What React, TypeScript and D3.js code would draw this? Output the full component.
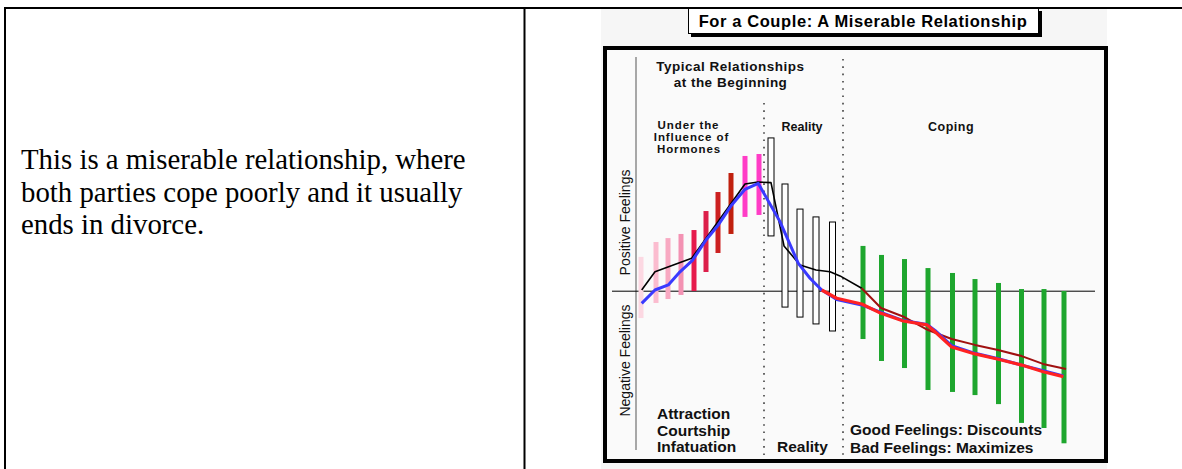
import * as d3 from "d3"

const W = 1182
const H = 469

// Early phase bars ("Under the Influence of Hormones"): time, top, bottom
const hormoneX = [0.5, 2.0, 3.2, 4.5, 5.8, 7.0, 8.2, 9.5, 10.9, 12.3]
const hormoneTop = [1.75, 2.51, 2.71, 2.92, 3.12, 4.09, 5.06, 6.03, 6.9, 7.0]
const hormoneBottom = [-1.37, -0.6, -0.4, -0.19, 0.01, 0.98, 1.95, 2.92, 3.79, 3.89]
const hormoneColors = [
  "#fcd8e2", "#fbbccf", "#f8a9c2", "#f392b3", "#e61a4c",
  "#dc1f4a", "#cc2020", "#c0200e", "#ff3cc6", "#ff3cc6",
]

// Reality phase boxes
const realityX = [13.5, 14.9, 16.4, 18.0, 19.65]
const realityTop = [7.82, 5.47, 4.19, 3.79, 3.53]
const realityBottom = [2.82, -0.81, -1.32, -1.67, -2.03]

// Coping phase bars
const copingX = [22.7, 24.55, 26.85, 29.2, 31.65, 33.9, 36.25, 38.55, 40.8, 42.8]
const copingTop = [2.31, 1.85, 1.64, 1.18, 0.93, 0.62, 0.42, 0.11, 0.11, 0.01]
const copingBottom = [-2.44, -3.56, -3.92, -5.04, -5.14, -5.3, -5.76, -6.72, -6.98, -7.76]

// Partner lines
const blackLine: [number, number][] = [
  [0.57, 0.06], [1.9, 0.99], [5.57, 1.68], [10.9, 5.47], [12.2, 5.57], [13.5, 5.54],
  [14.8, 2.31], [16.4, 1.34], [18.0, 1.08], [19.4, 0.99], [20.4, 0.78], [22.57, 0.15],
]
const darkRedLine: [number, number][] = [
  [22.57, 0.15], [24.5, -0.86], [26.7, -1.29], [29.2, -1.98], [31.57, -2.44], [33.9, -2.74],
  [36.2, -3.0], [38.57, -3.31], [40.7, -3.71], [43.0, -3.97],
]
const blueLine: [number, number][] = [
  [0.57, -0.62], [1.9, 0.06], [3.23, 0.32], [4.4, 0.99], [5.67, 1.59], [7.0, 2.61],
  [8.23, 3.38], [9.57, 4.4], [10.9, 5.2], [12.23, 5.5], [14.4, 3.55], [16.23, 1.42],
  [17.4, 0.66], [18.57, 0.06], [20.07, -0.42], [22.57, -0.7], [24.5, -1.08], [26.73, -1.5],
  [29.1, -1.7], [29.9, -2.0], [31.57, -2.78], [33.9, -3.17], [36.23, -3.45], [38.57, -3.77],
  [40.73, -4.06], [42.73, -4.32],
]
const redLine: [number, number][] = [
  [18.57, 0.06], [20.07, -0.36], [22.57, -0.65], [24.5, -1.13], [26.73, -1.52], [29.1, -1.72],
  [29.9, -2.07], [31.57, -2.85], [33.9, -3.2], [36.23, -3.47], [38.57, -3.77], [40.73, -4.11],
  [42.73, -4.36],
]

const phaseDividers = [12.8, 20.7]

const sans = "'Liberation Sans', Arial, Helvetica, sans-serif"

export default function App() {
  const x = d3.scaleLinear().domain([0, 46]).range([636, 1096])
  const y = d3.scaleLinear().domain([-8, 12]).range([448, 56])

  const line = d3
    .line<[number, number]>()
    .x((d) => x(d[0]))
    .y((d) => y(d[1]))

  const barW = 5
  const boxW = 6

  return (
    <svg
      width={W}
      height={H}
      style={{ position: "absolute", left: 0, top: 0, background: "#fff" }}
    >
      {/* page table */}
      <line x1={5} x2={W} y1={8} y2={8} stroke="#000" strokeWidth={2} />
      <line x1={5} x2={5} y1={7} y2={H} stroke="#000" strokeWidth={2} />
      <line x1={524.5} x2={524.5} y1={7} y2={H} stroke="#000" strokeWidth={2} />
      <text fontFamily="'Liberation Serif', 'Times New Roman', serif" fontSize={28.8} fill="#000">
        <tspan x={21} y={169}>This is a miserable relationship, where</tspan>
        <tspan x={21} y={201.5}>both parties cope poorly and it usually</tspan>
        <tspan x={21} y={234}>ends in divorce.</tspan>
      </text>

      {/* chart image */}
      <rect x={601} y={9} width={506} height={H - 9} fill="#f6f6f6" />
      <rect x={605} y={48} width={501} height={413} fill="#fafafa" stroke="#000" strokeWidth={4} />

      {/* title box */}
      <rect x={691} y={11} width={351} height={26} fill="#000" />
      <rect x={688.5} y={8.5} width={350} height={25} fill="#fff" stroke="#000" strokeWidth={1} />
      <text
        x={863}
        y={27}
        textAnchor="middle"
        fontFamily={sans}
        fontWeight="bold"
        fontSize={16.5}
        letterSpacing={0.6}
      >
        For a Couple: A Miserable Relationship
      </text>

      {/* axes */}
      <line x1={x(0)} x2={x(0)} y1={57} y2={450} stroke="#555" strokeWidth={1} />
      <line x1={612} x2={1095} y1={y(0)} y2={y(0)} stroke="#000" strokeWidth={1} />
      <line
        x1={x(phaseDividers[0])}
        x2={x(phaseDividers[0])}
        y1={103}
        y2={456}
        stroke="#666"
        strokeWidth={2}
        strokeDasharray="1.6 5.7"
      />
      <line
        x1={x(phaseDividers[1])}
        x2={x(phaseDividers[1])}
        y1={59}
        y2={456}
        stroke="#666"
        strokeWidth={2}
        strokeDasharray="1.6 5.7"
      />

      <text
        transform="translate(629.5,222.5) rotate(-90)"
        textAnchor="middle"
        fontFamily={sans}
        fontSize={14}
        fill="#111"
      >
        Positive Feelings
      </text>
      <text
        transform="translate(629.5,360.5) rotate(-90)"
        textAnchor="middle"
        fontFamily={sans}
        fontSize={14}
        fill="#111"
      >
        Negative Feelings
      </text>

      {/* phase labels */}
      <g fontFamily={sans} fontWeight="bold" fill="#111">
        <text x={730.5} y={71} textAnchor="middle" fontSize={13.5} letterSpacing={0.5}>Typical Relationships</text>
        <text x={730.5} y={87} textAnchor="middle" fontSize={13.5} letterSpacing={0.5}>at the Beginning</text>
        <text x={688.5} y={129} textAnchor="middle" fontSize={11.5} letterSpacing={0.9}>Under the</text>
        <text x={691.5} y={141} textAnchor="middle" fontSize={11.5} letterSpacing={0.9}>Influence of</text>
        <text x={689} y={153} textAnchor="middle" fontSize={11.5} letterSpacing={0.9}>Hormones</text>
        <text x={802} y={131} textAnchor="middle" fontSize={12.5}>Reality</text>
        <text x={951} y={131} textAnchor="middle" fontSize={12.5} letterSpacing={0.5}>Coping</text>
        <text x={657} y={419} fontSize={15.5}>Attraction</text>
        <text x={657} y={435.5} fontSize={15.5}>Courtship</text>
        <text x={657} y={452} fontSize={15.5}>Infatuation</text>
        <text x={777} y={452} fontSize={15.5}>Reality</text>
        <text x={850} y={435} fontSize={15.5}>Good Feelings: Discounts</text>
        <text x={850} y={453} fontSize={15.5}>Bad Feelings: Maximizes</text>
      </g>

      {/* bars */}
      {hormoneX.map((v, i) => (
        <rect
          key={`h${i}`}
          x={x(v) - barW / 2}
          y={y(hormoneTop[i])}
          width={barW}
          height={y(hormoneBottom[i]) - y(hormoneTop[i])}
          fill={hormoneColors[i]}
        />
      ))}
      {realityX.map((v, i) => (
        <rect
          key={`r${i}`}
          x={x(v) - boxW / 2}
          y={y(realityTop[i])}
          width={boxW}
          height={y(realityBottom[i]) - y(realityTop[i])}
          fill="#fff"
          stroke="#000"
          strokeWidth={1}
        />
      ))}
      {copingX.map((v, i) => (
        <rect
          key={`c${i}`}
          x={x(v) - barW / 2}
          y={y(copingTop[i])}
          width={barW}
          height={y(copingBottom[i]) - y(copingTop[i])}
          fill="#1ea62e"
        />
      ))}

      {/* lines */}
      <path d={line(blackLine) ?? ""} fill="none" stroke="#000" strokeWidth={1.6} strokeLinejoin="round" />
      <path d={line(darkRedLine) ?? ""} fill="none" stroke="#a01010" strokeWidth={2} strokeLinejoin="round" />
      <path d={line(blueLine) ?? ""} fill="none" stroke="#3a3aff" strokeWidth={3} strokeLinejoin="round" />
      <path d={line(redLine) ?? ""} fill="none" stroke="#ff2222" strokeWidth={3.2} strokeLinejoin="round" />
    </svg>
  )
}
